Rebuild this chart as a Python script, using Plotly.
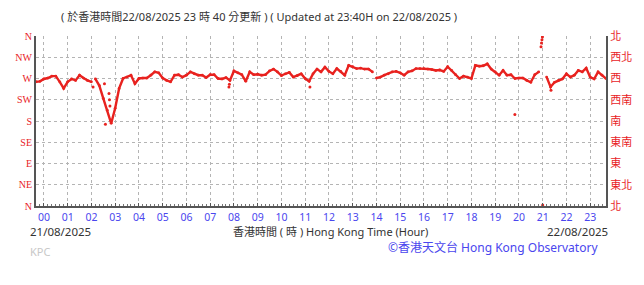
import plotly.graph_objects as go

# --- data (hours relative to 00:00 on 21/08/2025, wind direction in degrees) ---
hours = [
    -0.333, -0.167, 0.0, 0.167, 0.333, 0.5, 0.667, 0.833, 1.0, 1.167, 1.333, 1.5, 1.667, 1.833, 2.0,
    2.08,
    2.167, 2.333, 2.5, 2.667, 2.833, 3.0, 3.167, 3.333, 3.5, 3.667, 3.833, 4.0, 4.167, 4.333, 4.5,
    4.667, 4.833, 5.0, 5.167, 5.333, 5.5,
    5.667, 5.833, 6.0, 6.167, 6.333, 6.5, 6.667, 6.833, 7.0, 7.167, 7.333, 7.5, 7.667, 7.833,
    8.0, 8.167, 8.333, 8.5, 8.667, 8.833, 9.0, 9.167, 9.333, 9.5, 9.667, 9.833, 10.0, 10.167,
    10.333, 10.5, 10.667, 10.833, 11.0, 11.167, 11.333, 11.5,
    11.667, 11.833, 12.0, 12.167, 12.333, 12.5, 12.667, 12.833, 13.0, 13.167, 13.333, 13.5,
    13.667, 13.833, 13.92,
    14.0, 14.167, 14.333, 14.5, 14.667, 14.833, 15.0, 15.167, 15.333, 15.5, 15.667, 15.833,
    16.0, 16.167, 16.333, 16.5, 16.667, 16.833, 17.0, 17.167, 17.333, 17.5,
    17.667, 17.833, 18.0, 18.167, 18.333, 18.5, 18.667, 18.833, 19.0, 19.167, 19.333, 19.5,
    19.667, 19.833, 20.0, 20.167, 20.333, 20.5, 20.667, 20.833,
    21.0,
    21.167, 21.333, 21.5, 21.667, 21.833, 22.0, 22.167, 22.333, 22.5, 22.667, 22.833,
    23.0, 23.167, 23.333, 23.5, 23.667,
]
direction = [
    263, 264, 269, 271, 275, 275, 263, 249, 263, 269, 266, 277, 271, 266, 263,
    None,
    269, 255, 228, 203, 175, 207, 249, 270, 273, 277, 259, 270, 271, 271, 277,
    284, 282, 271, 266, 263, 277,
    278, 273, 277, 284, 280, 277, 277, 272, 278, 278, 270, 269, 272, 266,
    286, 282, 278, 264, 284, 278, 279, 277, 278, 286, 290, 284, 276, 280,
    283, 273, 276, 280, 270, 264, 280, 290,
    284, 294, 285, 280, 291, 285, 277, 298, 295, 291, 292, 290,
    290, 284, None,
    271, 273, 277, 280, 284, 285, 282, 277, 284, 286, 291, 291,
    291, 290, 289, 287, 288, 285, 295, 287, 278, 270,
    275, 273, 270, 298, 296, 297, 301, 290, 284, 277, 287, 277,
    278, 270, 271, 271, 266, 262, 278, 284,
    None,
    273, 252, 262, 266, 269, 280, 273, 277, 287, 284, 292,
    273, 269, 284, 277, 270,
]

# isolated readings
stray_hours = [2.07, 2.55, 2.59, 2.74, 2.76, 2.78, 7.79, 7.81, 11.2, 19.83,
               20.93, 20.95, 20.97, 20.99, 21.0, 21.35]
stray_dir = [252, 259, 173, 238, 225, 212, 252, 258, 252, 194,
             337, 345, 352, 358, 2, 245]

hour_ticks = list(range(24))
hour_labels = [f"{h:02d}" for h in hour_ticks]
dir_ticks = [0, 45, 90, 135, 180, 225, 270, 315, 360]
dir_labels_en = ["N", "NE", "E", "SE", "S", "SW", "W", "NW", "N"]
dir_labels_zh = ["北", "東北", "東", "東南", "南", "西南", "西", "西北", "北"]

RED = "#e8221f"
BLUE = "#4a46ee"
GRID = "#b4b4b4"

fig = go.Figure()
fig.add_trace(go.Scatter(
    x=hours, y=direction, mode="lines+markers",
    line=dict(color=RED, width=2.4),
    marker=dict(color=RED, size=2.8),
    connectgaps=False, showlegend=False, hoverinfo="skip",
))
fig.add_trace(go.Scatter(
    x=stray_hours, y=stray_dir, mode="markers",
    marker=dict(color=RED, size=3),
    showlegend=False, hoverinfo="skip",
))
# invisible trace to anchor right-hand axis
fig.add_trace(go.Scatter(
    x=[hours[0]], y=[direction[0]], yaxis="y2", mode="markers",
    marker=dict(opacity=0), showlegend=False, hoverinfo="skip",
))

W, H = 644, 285
l, r, t, b = 36, 33, 36, 79
pw, ph = W - l - r, H - t - b


def px(x):
    return (x - l) / pw


def py(y):
    return (H - b - y) / ph


fig.update_layout(
    width=W, height=H,
    margin=dict(l=l, r=r, t=t, b=b),
    paper_bgcolor="white", plot_bgcolor="white",
    font=dict(family="Noto Sans, Noto Sans CJK TC, sans-serif", size=12, color="#333333"),
    xaxis=dict(
        range=[-0.333, 23.667], tickmode="array", tickvals=hour_ticks, ticktext=hour_labels,
        tickfont=dict(color=BLUE, size=10.5, family="Noto Sans, sans-serif"),
        showgrid=True, gridcolor=GRID, griddash="dot", gridwidth=1,
        zeroline=False, showline=True, linecolor="#555555", linewidth=2,
        ticks="inside", ticklen=3, tickcolor="#555555",
        minor=dict(dtick=1/6, ticks="inside", ticklen=2, tickcolor="#777777", showgrid=False),
        fixedrange=True,
    ),
    yaxis=dict(
        range=[0, 360], tickmode="array", tickvals=dir_ticks, ticktext=dir_labels_en,
        tickfont=dict(color=RED, size=10, family="Liberation Serif, serif"),
        showgrid=True, gridcolor=GRID, griddash="dot", gridwidth=1,
        zeroline=False, showline=True, linecolor="#555555", linewidth=2,
        ticks="", fixedrange=True,
    ),
    yaxis2=dict(
        range=[0, 360], overlaying="y", side="right", tickmode="array",
        tickvals=dir_ticks, ticktext=dir_labels_zh,
        tickfont=dict(color=RED, size=11, family="Noto Sans CJK TC, sans-serif"),
        showgrid=False, zeroline=False, showline=True, linecolor="#555555", linewidth=2,
        ticks="", fixedrange=True,
    ),
    annotations=[
        dict(text="( 於香港時間22/08/2025 23 時 40 分更新 ) ( Updated at 23:40H on 22/08/2025 )",
             x=px(261), y=py(17), font=dict(size=11, color="#333333")),
        dict(text="21/08/2025", x=px(28), y=py(231), xanchor="left",
             font=dict(size=11.5, color="#333333")),
        dict(text="香港時間 ( 時 ) Hong Kong Time (Hour)", x=px(333), y=py(231),
             font=dict(size=11, color="#333333")),
        dict(text="22/08/2025", x=px(615), y=py(231), xanchor="right",
             font=dict(size=11.5, color="#333333")),
        dict(text="KPC", x=px(28), y=py(251), xanchor="left",
             font=dict(size=11, color="#c8c8c8")),
        dict(text="©香港天文台 Hong Kong Observatory", x=px(605), y=py(247),
             xanchor="right", font=dict(size=12, color=BLUE)),
    ],
)
for a in fig.layout.annotations:
    a.xref = "paper"
    a.yref = "paper"
    a.showarrow = False
    a.yanchor = "middle"

fig.write_html("out.html")
